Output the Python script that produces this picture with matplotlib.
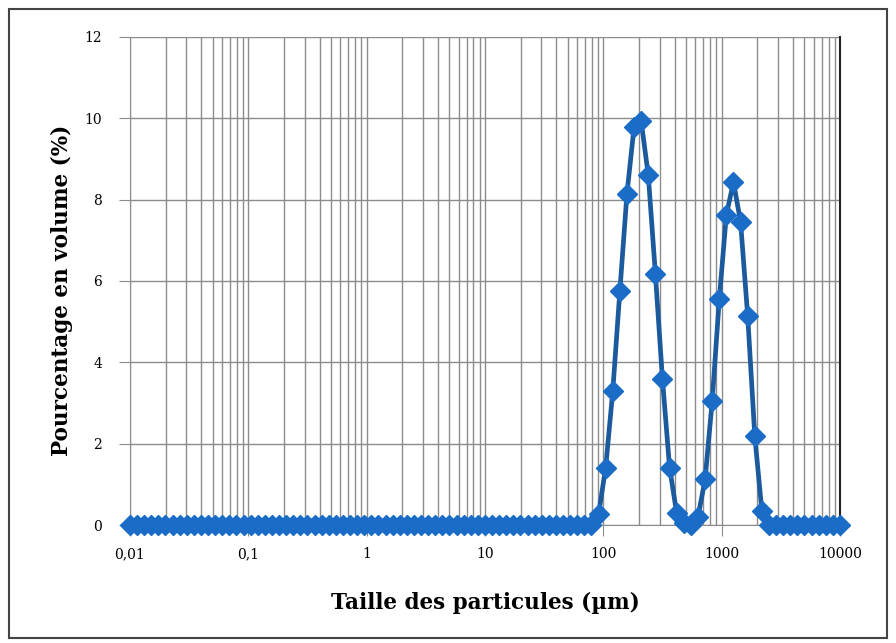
import matplotlib.pyplot as plt
from matplotlib.patches import Rectangle
from matplotlib.ticker import FixedLocator, LogLocator, NullFormatter

# Classes granulométriques (µm), pas logarithmique régulier
tailles = [
    0.01, 0.01148, 0.01318, 0.01514, 0.01738, 0.01995, 0.02291, 0.0263, 0.0302, 0.03467,
    0.03981, 0.04571, 0.05248, 0.06026, 0.06918, 0.07943, 0.0912, 0.1047, 0.1202, 0.138,
    0.1585, 0.182, 0.2089, 0.2399, 0.2754, 0.3162, 0.3631, 0.4169, 0.4786, 0.5495,
    0.631, 0.7244, 0.8318, 0.955, 1.096, 1.259, 1.445, 1.66, 1.905, 2.188,
    2.512, 2.884, 3.311, 3.802, 4.365, 5.012, 5.754, 6.607, 7.586, 8.71,
    10, 11.48, 13.18, 15.14, 17.38, 19.95, 22.91, 26.3, 30.2, 34.67,
    39.81, 45.71, 52.48, 60.26, 69.18, 79.43, 91.2, 104.7, 120.2, 138,
    158.5, 182, 208.9, 239.9, 275.4, 316.2, 363.1, 416.9, 478.6, 549.5,
    631, 724.4, 831.8, 955, 1096, 1259, 1445, 1660, 1905, 2188,
    2512, 2884, 3311, 3802, 4365, 5012, 5754, 6607, 7586, 8710,
    10000,
]

# Pourcentage en volume (%)
volume = [0.0] * 65 + [
    0.0, 0.27, 1.41, 3.29, 5.75, 8.15, 9.79, 9.93, 8.6, 6.18,
    3.58, 1.41, 0.29, 0.05, 0.0, 0.2, 1.12, 3.05, 5.55, 7.63,
    8.43, 7.45, 5.14, 2.19, 0.34,
] + [0.0] * 11

x_ticks = [0.01, 0.1, 1, 10, 100, 1000, 10000]
x_labels = ['0,01', '0,1', '1', '10', '100', '1000', '10000']
y_ticks = [0, 2, 4, 6, 8, 10, 12]

plt.rcParams['font.family'] = 'DejaVu Serif'

fig = plt.figure(figsize=(8.96, 6.43), dpi=100)
ax = fig.add_axes([0.145, 0.1835, 0.7925, 0.759])

# cadre autour du graphique
fig.patches.append(Rectangle((0.010, 0.008), 0.980, 0.978, transform=fig.transFigure,
                             fill=False, edgecolor='#444444', linewidth=1.5))

ax.plot(tailles, volume, color='#1c5a9e', linewidth=3.4, marker='D', markersize=10,
        markerfacecolor='#1b6cc6', markeredgecolor='#1b6cc6', clip_on=False, zorder=3)

ax.set_xscale('log')
ax.set_xlim(0.01, 10000)
ax.set_ylim(0, 12)

ax.xaxis.set_major_locator(FixedLocator(x_ticks))
ax.set_xticklabels(x_labels)
ax.xaxis.set_minor_locator(LogLocator(base=10, subs=range(2, 10), numticks=100))
ax.xaxis.set_minor_formatter(NullFormatter())
ax.set_yticks(y_ticks)

ax.grid(True, which='major', color='#8c8c8c', linewidth=1)
ax.grid(True, which='minor', axis='x', color='#8c8c8c', linewidth=1)
ax.set_axisbelow(True)

ax.spines['top'].set_visible(False)
ax.spines['left'].set_color('#8c8c8c')
ax.spines['bottom'].set_color('#8c8c8c')
ax.spines['right'].set_color('#222222')
ax.spines['right'].set_linewidth(1.5)

ax.tick_params(axis='both', which='major', direction='out', length=8, color='#8c8c8c',
               labelsize=10, pad=8)
ax.tick_params(axis='y', which='major', pad=12)
ax.tick_params(axis='x', which='minor', length=0)

ax.set_xlabel('Taille des particules (µm)', fontsize=15.5, fontweight='bold', labelpad=22)
ax.set_ylabel('Pourcentage en volume (%)', fontsize=15.5, fontweight='bold')
ax.yaxis.set_label_coords(-0.08, 0.48)

fig.savefig('out.png', dpi=100)
